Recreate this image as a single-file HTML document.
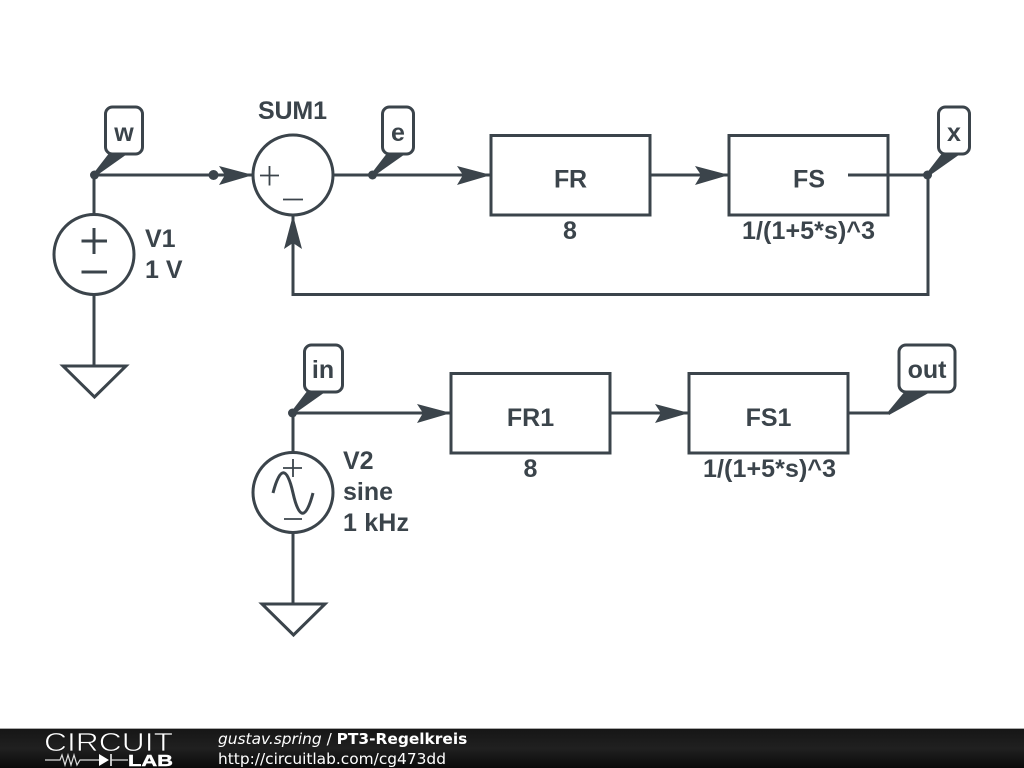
<!DOCTYPE html>
<html>
<head>
<meta charset="utf-8">
<style>
html,body{margin:0;padding:0;background:#fff;width:1024px;height:768px;overflow:hidden}
svg{display:block}
.l{font-family:"Liberation Sans",sans-serif;font-weight:bold;font-size:25px;fill:#3b444b}
.c{text-anchor:middle}
.f{font-family:"DejaVu Sans",sans-serif;font-size:15.4px;fill:#fff}
</style>
</head>
<body>
<svg width="1024" height="768" viewBox="0 0 1024 768" xmlns="http://www.w3.org/2000/svg">
<defs>
<linearGradient id="g" x1="0" y1="0" x2="0" y2="1">
<stop offset="0" stop-color="#161616"/><stop offset="0.5" stop-color="#202020"/><stop offset="1" stop-color="#0a0a0a"/>
</linearGradient>
</defs>
<g fill="none" stroke="#3b444b" stroke-width="3">
<!-- top wires -->
<path d="M94 175H253M333 175H491M650 175H729M848 175H928M928 175V294.500H293V215"/>
<path d="M94 175V215M94 294V366"/>
<rect x="491" y="135.500" width="159" height="79.500"/>
<rect x="729" y="135.500" width="159" height="79.500"/>
<circle cx="293" cy="175" r="40"/>
<circle cx="94" cy="254.500" r="40"/>
<path d="M63 366H126L94.500 397Z"/>
<path d="M81.500 241H107M94 228V254M81.500 272H107"/>
<path d="M260 175.500H279M269.500 166V185.500M283 199.500H303" stroke-width="1.800"/>
<!-- bottom wires -->
<path d="M293 413H451M610 413H689M848 413H888"/>
<path d="M293 413V453M293 532V604"/>
<rect x="451" y="373.500" width="159" height="79.500"/>
<rect x="689" y="373.500" width="159" height="79.500"/>
<circle cx="293" cy="492.500" r="40"/>
<path d="M262 604H325L293.500 635Z"/>
<path d="M283 468H302M293 459V477M284 519H302" stroke-width="1.800"/>
<path d="M273 493C280 466 287 466 293 493C299 520 306 520 313 493" stroke-width="3"/>
</g>
<g fill="#3b444b">
<circle cx="94.500" cy="175" r="4.500"/>
<circle cx="213.500" cy="175" r="5"/>
<circle cx="372.500" cy="175" r="4.500"/>
<circle cx="927.500" cy="175" r="4.500"/>
<circle cx="292.500" cy="413" r="4.500"/>
<!-- arrowheads -->
<path d="M219 166L253 175L219 185L225 175Z"/>
<path d="M457 166L491 175L457 185L463 175Z"/>
<path d="M695 166L729 175L695 185L701 175Z"/>
<path d="M284 249L293 215L302 249L293 243Z"/>
<path d="M417 404L451 413L417 423L423 413Z"/>
<path d="M655 404L689 413L655 423L661 413Z"/>
<!-- label pointers -->
<path d="M93 174L110 152H130L96 176Z"/>
<path d="M371 174L388 152H408L374 176Z"/>
<path d="M926 174L943 152H963L929 176Z"/>
<path d="M291 412L308 390H328L294 414Z"/>
<path d="M887 413L906 390H934L889 415Z"/>
</g>
<g fill="#fff" stroke="#3b444b" stroke-width="3">
<rect x="105.500" y="107" width="37" height="47" rx="7"/>
<rect x="382.500" y="107" width="31" height="47" rx="7"/>
<rect x="938.500" y="107" width="31" height="47" rx="7"/>
<rect x="304.500" y="345" width="38" height="47" rx="7"/>
<rect x="899" y="345" width="56" height="47" rx="7"/>
</g>
<text class="l c" x="124" y="141">w</text>
<text class="l c" x="398" y="141">e</text>
<text class="l c" x="954" y="141">x</text>
<text class="l c" x="323" y="378">in</text>
<text class="l c" x="927" y="378">out</text>
<text class="l" x="258" y="119" textLength="69" lengthAdjust="spacing">SUM1</text>
<text class="l" x="145" y="247">V1</text>
<text class="l" x="145" y="278">1 V</text>
<text class="l" x="554" y="187.500" textLength="33" lengthAdjust="spacing">FR</text>
<text class="l c" x="570" y="239">8</text>
<text class="l" x="793" y="187.500" textLength="32" lengthAdjust="spacing">FS</text>
<text class="l" x="742" y="239" textLength="133" lengthAdjust="spacing">1/(1+5*s)^3</text>
<text class="l c" x="530.500" y="426">FR1</text>
<text class="l c" x="530.500" y="477">8</text>
<text class="l c" x="768.500" y="426">FS1</text>
<text class="l" x="703" y="477" textLength="133" lengthAdjust="spacing">1/(1+5*s)^3</text>
<text class="l" x="343" y="469">V2</text>
<text class="l" x="343" y="500">sine</text>
<text class="l" x="343" y="531" textLength="66" lengthAdjust="spacing">1 kHz</text>
<!-- footer -->
<rect x="0" y="729" width="1024" height="39" fill="url(#g)"/>
<rect x="0" y="728" width="1024" height="1" fill="#aaa"/>
<text x="44" y="751" font-family="'Liberation Sans',sans-serif" font-size="26" fill="#fff" stroke="#181818" stroke-width="0.7" textLength="129" lengthAdjust="spacingAndGlyphs">CIRCUIT</text>
<path d="M45 760H60L62 755L65 765L68 755L71 765L74 755L77 765L80 760H99" fill="none" stroke="#ddd" stroke-width="1.200"/>
<path d="M99 754L109 760L99 766Z" fill="#fff"/>
<path d="M111 754V766" stroke="#fff" stroke-width="1.500"/>
<path d="M111 760H128" stroke="#ddd" stroke-width="1.200"/>
<text x="128" y="766" font-family="'Liberation Sans',sans-serif" font-weight="bold" font-size="15.500" fill="#fff" stroke="#fff" stroke-width="0.4" textLength="45" lengthAdjust="spacingAndGlyphs">LAB</text>
<text class="f" x="218" y="744"><tspan font-style="italic">gustav.spring</tspan> / <tspan font-weight="bold">PT3-Regelkreis</tspan></text>
<text class="f" x="218" y="764">http://circuitlab.com/cg473dd</text>
</svg>
</body>
</html>
